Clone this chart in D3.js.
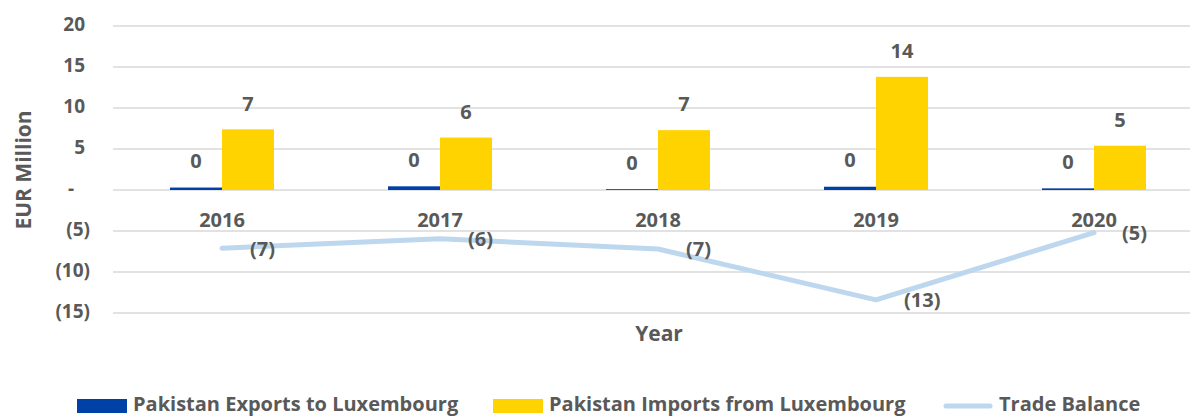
<!DOCTYPE html>
<html>
<head>
<meta charset="utf-8">
<script src="https://cdn.jsdelivr.net/npm/d3@7"></script>
<style>
  body { margin: 0; background: #fff; }
  text { font-family: "Open Sans", Lato, sans-serif; font-weight: bold; fill: #595959; }
</style>
</head>
<body>
<div id="chart"></div>
<script>
var years = ["2016", "2017", "2018", "2019", "2020"];
var exportsLux = [0.3, 0.45, 0.1, 0.4, 0.2];
var importsLux = [7.4, 6.4, 7.3, 13.8, 5.4];
var tradeBalance = [-7.1, -5.95, -7.2, -13.4, -5.2];
var yTicks = [20, 15, 10, 5, 0, -5, -10, -15];
var seriesNames = ["Pakistan Exports to Luxembourg", "Pakistan Imports from Luxembourg", "Trade Balance"];

var width = 1190, height = 416;
var left = 113;

var svg = d3.select("#chart")
    .append("svg")
    .attr("width", width)
    .attr("height", height);

var x = d3.scaleBand()
    .domain(years)
    .range([left, left + 5 * 218]);

var y = d3.scaleLinear()
    .domain([-15, 20])
    .range([313, 26]);

var barW = 52;

// gridlines
svg.append("g").selectAll("line")
    .data(yTicks)
    .join("line")
    .attr("x1", left)
    .attr("x2", width)
    .attr("y1", d => y(d))
    .attr("y2", d => y(d))
    .attr("stroke", "#d9d9d9")
    .attr("stroke-width", 1.5);

// y tick labels, accounting style
function fmt(d) {
    if (d === 0) return "-";
    if (d < 0) return "(" + Math.abs(d) + ")";
    return d;
}
svg.append("g").selectAll("text")
    .data(yTicks)
    .join("text")
    .attr("x", d => d < 0 ? 90 : (d === 0 ? 74 : 85))
    .attr("y", d => y(d))
    .attr("text-anchor", "end")
    .attr("dominant-baseline", "middle")
    .attr("font-size", "19px")
    .text(fmt);

svg.append("text")
    .attr("transform", "translate(25,170) rotate(-90)")
    .attr("text-anchor", "middle")
    .attr("dominant-baseline", "middle")
    .attr("font-size", "21px")
    .text("EUR Million");

svg.append("text")
    .attr("x", 659)
    .attr("y", 335)
    .attr("text-anchor", "middle")
    .attr("dominant-baseline", "middle")
    .attr("font-size", "21px")
    .text("Year");

// bars
var cx = d => x(d) + x.bandwidth() / 2;

svg.append("g").selectAll("rect")
    .data(years)
    .join("rect")
    .attr("x", (d, i) => cx(d) - barW)
    .attr("y", (d, i) => y(exportsLux[i]))
    .attr("width", barW)
    .attr("height", (d, i) => y(0) - y(exportsLux[i]))
    .attr("fill", "#0041a8");

svg.append("g").selectAll("rect")
    .data(years)
    .join("rect")
    .attr("x", d => cx(d))
    .attr("y", (d, i) => y(importsLux[i]))
    .attr("width", barW)
    .attr("height", (d, i) => y(0) - y(importsLux[i]))
    .attr("fill", "#ffd300");

// bar labels
svg.append("g").selectAll("text")
    .data(years)
    .join("text")
    .attr("x", d => cx(d) - barW / 2)
    .attr("y", (d, i) => y(exportsLux[i]) - 25)
    .attr("text-anchor", "middle")
    .attr("dominant-baseline", "middle")
    .attr("font-size", "20px")
    .text((d, i) => Math.round(exportsLux[i]));

svg.append("g").selectAll("text")
    .data(years)
    .join("text")
    .attr("x", d => cx(d) + barW / 2)
    .attr("y", (d, i) => y(importsLux[i]) - 24)
    .attr("text-anchor", "middle")
    .attr("dominant-baseline", "middle")
    .attr("font-size", "20px")
    .text((d, i) => Math.round(importsLux[i]));

// category labels
svg.append("g").selectAll("text")
    .data(years)
    .join("text")
    .attr("x", d => cx(d))
    .attr("y", 222)
    .attr("text-anchor", "middle")
    .attr("dominant-baseline", "middle")
    .attr("font-size", "20px")
    .text(d => d);

// trade balance line
svg.append("path")
    .datum(years)
    .attr("fill", "none")
    .attr("stroke", "#bdd7ee")
    .attr("stroke-width", 5)
    .attr("stroke-linejoin", "round")
    .attr("stroke-linecap", "round")
    .attr("d", d3.line()
        .x(d => cx(d))
        .y((d, i) => y(tradeBalance[i])));

svg.append("g").selectAll("text")
    .data(years)
    .join("text")
    .attr("x", d => cx(d) + 28)
    .attr("y", (d, i) => y(tradeBalance[i]) + 2)
    .attr("text-anchor", "start")
    .attr("dominant-baseline", "middle")
    .attr("font-size", "20px")
    .text((d, i) => "(" + Math.round(-tradeBalance[i]) + ")");

// legend
var legendX = [77, 493, 943];
var leg = svg.append("g");
leg.append("rect").attr("x", legendX[0]).attr("y", 399).attr("width", 50).attr("height", 14).attr("fill", "#0041a8");
leg.append("rect").attr("x", legendX[1]).attr("y", 399).attr("width", 50).attr("height", 14).attr("fill", "#ffd300");
leg.append("line").attr("x1", legendX[2] + 3).attr("x2", legendX[2] + 47).attr("y1", 406).attr("y2", 406)
    .attr("stroke", "#bdd7ee").attr("stroke-width", 5).attr("stroke-linecap", "round");
leg.selectAll("text")
    .data(seriesNames)
    .join("text")
    .attr("x", (d, i) => legendX[i] + 56)
    .attr("y", 406)
    .attr("dominant-baseline", "middle")
    .attr("font-size", "20px")
    .text(d => d);
</script>
</body>
</html>
